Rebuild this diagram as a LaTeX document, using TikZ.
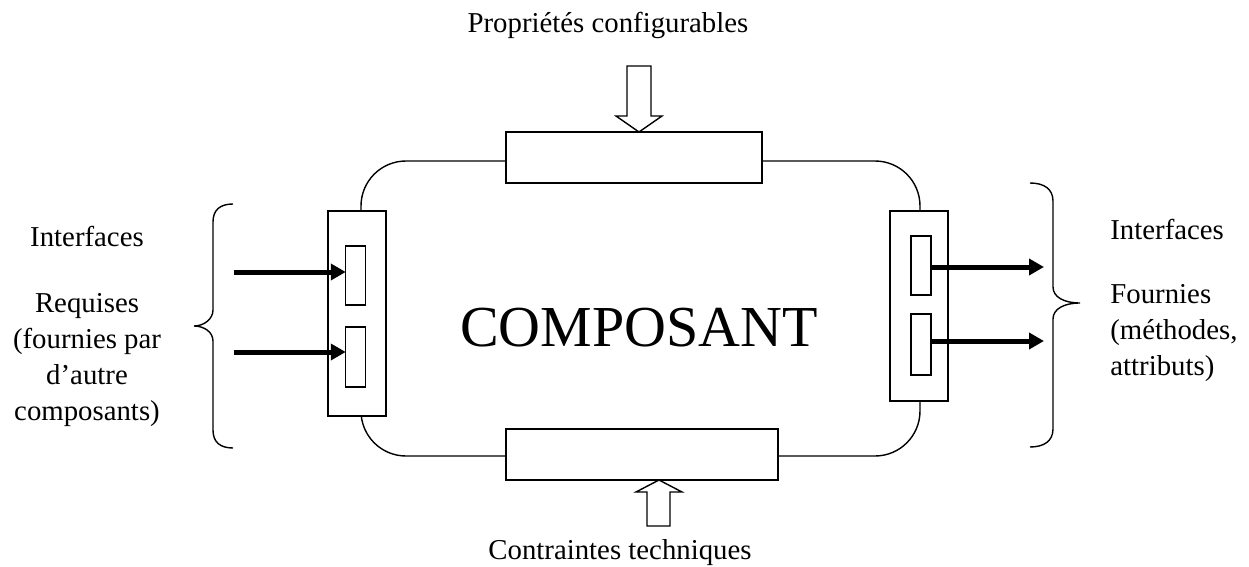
\documentclass[tikz,border=0pt]{standalone}
\usepackage{fontspec}
\setmainfont{Liberation Serif}
\usetikzlibrary{arrows.meta,calc}
\begin{document}
\begin{tikzpicture}[x=0.5pt,y=-0.5pt,
  thin line/.style={line width=0.7pt},
  pbox/.style 2 args={draw, fill=white, thin line, minimum width=#1*0.5pt,
    minimum height=#2*0.5pt, inner sep=0pt, outer sep=0pt},
  body/.style={draw, thin line, rounded corners=22.5pt, minimum width=559*0.5pt,
    minimum height=295*0.5pt, inner sep=0pt, outer sep=0pt},
  label/.style={font=\fontsize{14.4pt}{17pt}\selectfont, inner sep=0pt, anchor=base},
  title/.style={font=\fontsize{29pt}{34pt}\selectfont, inner sep=0pt, anchor=base},
  iface arrow/.style={line width=2.5pt, -{Triangle[length=7.5pt,width=8pt]}},
  hollow/.style={draw, fill=white, thin line, line join=miter},
  brace/.style={draw, thin line}]

\useasboundingbox (0,0) rectangle (1249,567);

% component body
\node[body] (comp) at (640.5,308.5) {};
\node[title] (name) at (639,346) {COMPOSANT};

% configuration and constraint bars
\node[pbox={256}{51}] (conf) at (634,157.5) {};
\node[pbox={272}{51}] (cons) at (642,454.5) {};

% required interfaces (left)
\node[pbox={58}{205}] (lport) at (357,313.5) {};
\node[pbox={19.5}{59}] (li1) at (355.5,275.5) {};
\node[pbox={19.5}{60}] (li2) at (355.5,357) {};

% provided interfaces (right)
\node[pbox={58}{190}] (rport) at (919,306) {};
\node[pbox={20}{59}] (ri1) at (921,265.5) {};
\node[pbox={20}{61}] (ri2) at (921,344.5) {};

% incoming and outgoing interface arrows
\coordinate (la1) at (234,272);
\coordinate (la2) at (234,352);
\draw[iface arrow] (la1) -- (la1 -| li1.west);
\draw[iface arrow] (la2) -- (la2 -| li2.west);
\coordinate (ra1) at (1044,267);
\coordinate (ra2) at (1044,341);
\draw[iface arrow] (ri1.east |- ra1) -- (ra1);
\draw[iface arrow] (ri2.east |- ra2) -- (ra2);

% hollow arrow into the configuration bar
\coordinate (ctip) at (639,132);
\draw[hollow] (ctip) -- ++(23,-16) -- ++(-11,0) -- ++(0,-50) -- ++(-24,0)
  -- ++(0,50) -- ++(-11,0) -- cycle;

% hollow arrow into the constraint bar
\coordinate (ktip) at (659,480);
\draw[hollow] (ktip) -- ++(23,12) -- ++(-12,0) -- ++(0,34) -- ++(-23,0)
  -- ++(0,-34) -- ++(-11,0) -- cycle;

% braces
\draw[brace] (233,204) .. controls (220,204) and (213,210) .. (213,222)
  -- (213,310) .. controls (213,319) and (204,326) .. (194,326)
  .. controls (204,326) and (213,332) .. (213,341)
  -- (213,430) .. controls (213,442) and (220,448) .. (233,448);
\draw[brace] (1030,183) .. controls (1044,183) and (1053,189) .. (1053,201)
  -- (1053,287) .. controls (1053,297) and (1064,303) .. (1080,303)
  .. controls (1064,303) and (1053,309) .. (1053,319)
  -- (1053,429) .. controls (1053,441) and (1044,447) .. (1030,447);

% texts
\node[label] (tconf) at (608,33) {Propriétés configurables};
\node[label] (tcons) at (620,559) {Contraintes techniques};

\node[label] (lt1) at (87,247) {Interfaces};
\node[label] (lt2) at (87,312) {Requises};
\node[label] (lt3) at (87,348) {(fournies par};
\node[label] (lt4) at (87,384) {d’autre};
\node[label] (lt5) at (87,420) {composants)};

\node[label, anchor=base west] (rt1) at (1110,240) {Interfaces};
\node[label, anchor=base west] (rt2) at (1110,303) {Fournies};
\node[label, anchor=base west] (rt3) at (1110,339) {(méthodes,};
\node[label, anchor=base west] (rt4) at (1110,375) {attributs)};
\end{tikzpicture}
\end{document}
